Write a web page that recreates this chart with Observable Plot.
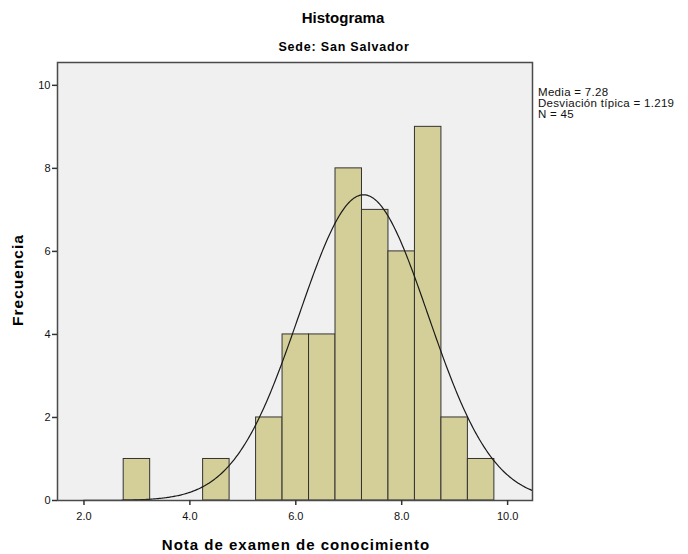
<!DOCTYPE html>
<html><head><meta charset="utf-8">
<script src="https://cdn.jsdelivr.net/npm/d3@7"></script>
<script src="https://cdn.jsdelivr.net/npm/@observablehq/plot@0.6"></script>
<style>
body{margin:0;background:#fff;font-family:"Liberation Sans",Arial,sans-serif;}
#wrap{position:relative;width:688px;height:554px;overflow:hidden;}
#wrap svg{position:absolute;left:0;top:0;}
.t{position:absolute;white-space:nowrap;color:#000;transform:translate(-50%,-50%);}
</style></head><body>
<div id="wrap"></div>
<script>
// Histogram bins (nota) and frequencies
const binStart = [2.75, 4.25, 5.25, 5.75, 6.25, 6.75, 7.25, 7.75, 8.25, 8.75, 9.25];
const binEnd   = [3.25, 4.75, 5.75, 6.25, 6.75, 7.25, 7.75, 8.25, 8.75, 9.25, 9.75];
const counts   = [1, 1, 2, 4, 4, 8, 7, 6, 9, 2, 1];
// Summary statistics shown in the legend
const mean = 7.28;
const sd = 1.219;
const n = 45;
const xTicks = [2, 4, 6, 8, 10];
const yTicks = [0, 2, 4, 6, 8, 10];
const labels = {
  title: "Histograma",
  subtitle: "Sede: San Salvador",
  x: "Nota de examen de conocimiento",
  y: "Frecuencia",
  legend: ["Media = 7.28", "Desviación típica = 1.219", "N = 45"]
};

const bins = binStart.map((s, i) => ({x1: s, x2: binEnd[i], count: counts[i]}));
const binWidth = binEnd[0] - binStart[0];
const xDomain = [1.5, 10.47];
// fitted normal curve: N * binWidth * pdf(x; mean, sd)
const curve = d3.range(xDomain[0], xDomain[1] + 1e-9, 0.02).map(x => ({
  x,
  y: n * binWidth * Math.exp(-0.5 * ((x - mean) / sd) ** 2) / (sd * Math.sqrt(2 * Math.PI))
}));

const chart = Plot.plot({
  width: 688, height: 554,
  marginLeft: 57, marginRight: 156, marginTop: 62, marginBottom: 54,
  style: {fontFamily: '"Liberation Sans", Arial, sans-serif', fontSize: "11px", color: "#111", background: "transparent"},
  x: {domain: xDomain, label: null},
  y: {domain: [0, 10.55], label: null},
  marks: [
    Plot.frame({fill: "#f0f0f0", stroke: null}),
    Plot.rectY(bins, {x1: "x1", x2: "x2", y1: 0, y2: "count", fill: "#d4cf98", stroke: "#333", strokeWidth: 1}),
    Plot.line(curve, {x: "x", y: "y", stroke: "#1a1a1a", strokeWidth: 1.2, curve: "linear"}),
    Plot.frame({stroke: "#4a4a4a", strokeWidth: 1.5}),
    Plot.axisX({ticks: xTicks, tickFormat: d3.format(".1f"), tickSize: 5, tickPadding: 7, stroke: "#333", strokeWidth: 1.5, label: null}),
    Plot.axisY({ticks: yTicks, tickFormat: d3.format("d"), tickSize: 5, tickPadding: 2, stroke: "#333", strokeWidth: 1.5, label: null})
  ]
});

const wrap = document.getElementById("wrap");
wrap.appendChild(chart);

function addText(txt, x, y, css, rotate) {
  const d = document.createElement("div");
  d.className = "t";
  d.textContent = txt;
  d.style.left = x + "px";
  d.style.top = y + "px";
  Object.assign(d.style, css);
  if (rotate) d.style.transform = "translate(-50%,-50%) rotate(-90deg)";
  wrap.appendChild(d);
}
addText(labels.title, 343, 17, {fontWeight: "bold", fontSize: "15px"});
addText(labels.subtitle, 344, 47, {fontWeight: "bold", fontSize: "12.5px", letterSpacing: "0.8px"});
addText(labels.x, 296, 544, {fontWeight: "bold", fontSize: "15px", letterSpacing: "1px"});
addText(labels.y, 18, 280, {fontWeight: "bold", fontSize: "15.5px", letterSpacing: "1px"}, true);
const lg = document.createElement("div");
lg.style.cssText = "position:absolute;left:538px;top:87px;font-size:11.5px;line-height:11px;letter-spacing:0.3px;color:#111;white-space:nowrap;";
lg.innerHTML = labels.legend.map(s => `<div>${s}</div>`).join("");
wrap.appendChild(lg);
</script>
</body></html>
